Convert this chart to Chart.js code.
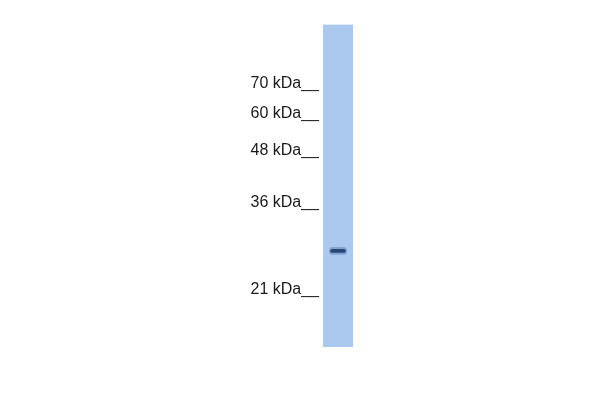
<!DOCTYPE html>
<html>
<head>
<meta charset="utf-8">
<script src="https://cdn.jsdelivr.net/npm/chart.js@4/dist/chart.umd.min.js"></script>
<style>
  html, body { margin: 0; padding: 0; background: #ffffff; }
  #wrap { width: 600px; height: 400px; }
</style>
</head>
<body>
<div id="wrap"><canvas id="c" width="600" height="400"></canvas></div>
<script>
// Lanes (categories)
const lanes = ['Lane 1'];
// Molecular-weight marker labels and their relative migration (Rf, 0 = top of lane, 1 = bottom)
const markerLabels = ['70 kDa', '60 kDa', '48 kDa', '36 kDa', '21 kDa'];
const markerRf = [0.209, 0.301, 0.417, 0.578, 0.846];
// Detected band: relative migration of its centre and its thickness (Rf units)
const bandRf = [0.702];
const bandThickness = [0.012];
// Lane extent in Rf units
const laneExtent = [0, 1];

const coreBand = bandRf.map((v, i) => [v - bandThickness[i] / 2, v + bandThickness[i] / 2]);
const haloBand = bandRf.map((v, i) => [v - bandThickness[i], v + bandThickness[i]]);
const laneBar = lanes.map(() => laneExtent.slice());

new Chart(document.getElementById('c'), {
  type: 'bar',
  data: {
    labels: lanes,
    datasets: [
      {
        label: 'band',
        data: coreBand,
        backgroundColor: '#284677',
        borderRadius: 2,
        borderSkipped: false,
        barPercentage: 0.52,
        categoryPercentage: 1,
        grouped: false,
        order: 0
      },
      {
        label: 'band halo',
        data: haloBand,
        backgroundColor: 'rgba(80,115,170,0.45)',
        borderRadius: 4,
        borderSkipped: false,
        barPercentage: 0.6,
        categoryPercentage: 1,
        grouped: false,
        order: 1
      },
      {
        label: 'lane',
        data: laneBar,
        backgroundColor: '#abc9ee',
        borderSkipped: false,
        barPercentage: 1,
        categoryPercentage: 1,
        grouped: false,
        order: 2
      }
    ]
  },
  options: {
    responsive: false,
    animation: false,
    layout: { padding: { left: 203, right: 247, top: 24.5, bottom: 53 } },
    plugins: { legend: { display: false }, tooltip: { enabled: false } },
    scales: {
      x: {
        display: false,
        offset: true,
        grid: { display: false }
      },
      y: {
        type: 'linear',
        reverse: true,
        min: 0,
        max: 1,
        border: { display: false },
        grid: { display: false, drawTicks: false },
        afterBuildTicks: (scale) => {
          scale.ticks = markerRf.map(v => ({ value: v }));
        },
        afterFit: (scale) => { scale.width = 120; },
        ticks: {
          autoSkip: false,
          padding: 4,
          labelOffset: -8,
          color: '#1a1a1a',
          font: { family: '"Liberation Sans", Arial, sans-serif', size: 16 },
          callback: (value, index) => markerLabels[index] + '__'
        }
      }
    }
  }
});
</script>
</body>
</html>
